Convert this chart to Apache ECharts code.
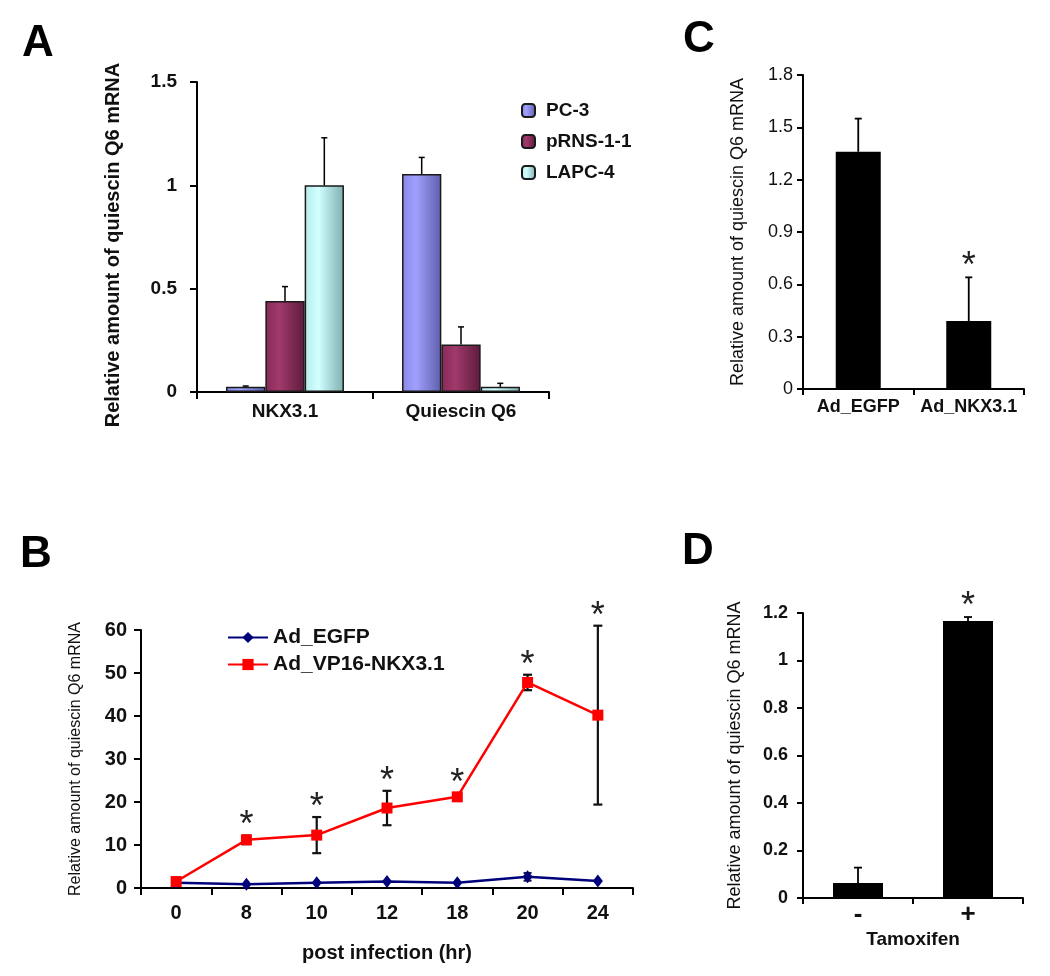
<!DOCTYPE html>
<html><head><meta charset="utf-8">
<script src="https://cdn.jsdelivr.net/npm/echarts@6/dist/echarts.min.js"></script>
<style>html,body{margin:0;padding:0;background:#fff}#c{width:1050px;height:976px}</style>
</head><body><div id="c"></div>
<script>
// ---------- Panel A ----------
const aCategories = ['NKX3.1', 'Quiescin Q6'];
const aNames = ['PC-3', 'pRNS-1-1', 'LAPC-4'];
const aPC3 = [0.025, 1.055];
const aPRNS = [0.44, 0.23];
const aLAPC = [1.0, 0.025];
const aPC3Err = [0.004, 0.08];
const aPRNSErr = [0.07, 0.085];
const aLAPCErr = [0.23, 0.017];
// ---------- Panel B ----------
const bHours = ['0', '8', '10', '12', '18', '20', '24'];
const bNames = ['Ad_EGFP', 'Ad_VP16-NKX3.1'];
const bEGFP = [1.2, 0.85, 1.2, 1.5, 1.2, 2.6, 1.6];
const bEGFPErr = [0, 0, 0, 0, 0, 0.9, 0];
const bVP16 = [1.5, 11.2, 12.3, 18.6, 21.2, 47.8, 40.2];
const bVP16Err = [0, 1.0, 4.2, 4.0, 0.8, 1.8, 20.8];
const bStars = [0, 1, 1, 1, 1, 1, 1];
// ---------- Panel C ----------
const cCategories = ['Ad_EGFP', 'Ad_NKX3.1'];
const cValues = [1.36, 0.39];
const cErr = [0.19, 0.25];
const cStars = [0, 1];
// ---------- Panel D ----------
const dCategories = ['-', '+'];
const dValues = [0.063, 1.166];
const dErr = [0.065, 0.017];
const dStars = [0, 1];

const FF = '"Liberation Sans", Arial, Helvetica, sans-serif';
const chart = echarts.init(document.getElementById('c'), null, {renderer: 'canvas'});

function errSeries(name, xi, yi, vals, errs, opt) {
  const o = Object.assign({offset: 0, cap: 7, lw: 1.5, color: '#000', two: false, z: 5}, opt || {});
  return {
    type: 'custom', name: name, xAxisIndex: xi, yAxisIndex: yi, z: o.z, silent: true,
    data: vals.map((v, i) => [i, v, errs[i]]),
    renderItem: function (params, api) {
      const i = api.value(0), v = api.value(1), e = api.value(2);
      if (!e) return null;
      const bw = api.size([1, 0])[0];
      const top = api.coord([i, v + e]);
      const bot = api.coord([i, o.two ? v - e : v]);
      const cx = top[0] + o.offset * bw;
      const st = {stroke: o.color, lineWidth: o.lw};
      const ch = [
        {type: 'line', shape: {x1: cx, y1: top[1], x2: cx, y2: bot[1]}, style: st},
        {type: 'line', shape: {x1: cx - o.cap / 2, y1: top[1], x2: cx + o.cap / 2, y2: top[1]}, style: st}
      ];
      if (o.two) ch.push({type: 'line', shape: {x1: cx - o.cap / 2, y1: bot[1], x2: cx + o.cap / 2, y2: bot[1]}, style: st});
      return {type: 'group', children: ch};
    }
  };
}
function starSeries(xi, yi, vals, errs, stars, lift) {
  return {
    type: 'custom', xAxisIndex: xi, yAxisIndex: yi, z: 6, silent: true,
    data: vals.map((v, i) => [i, v + errs[i], stars[i]]),
    renderItem: function (params, api) {
      if (!api.value(2)) return null;
      const p = api.coord([api.value(0), api.value(1)]);
      return {type: 'text', x: p[0], y: p[1] - lift,
        style: {text: '*', font: '36px ' + FF, align: 'center', verticalAlign: 'middle', fill: '#222'}};
    }
  };
}
const axLine = {show: true, lineStyle: {color: '#000', width: 2}};
const tick = (len) => ({show: true, length: len, lineStyle: {color: '#000', width: 2}});
const lbl = (size, bold, margin) => ({color: '#111', fontSize: size, fontWeight: bold ? 'bold' : 'normal', fontFamily: FF, margin: margin, interval: 0, hideOverlap: false});
function grad(c0, c1, c2) {
  return new echarts.graphic.LinearGradient(0, 0, 1, 0, [
    {offset: 0, color: c0}, {offset: 0.35, color: c1}, {offset: 1, color: c2}]);
}
const aColors = [grad('#8888e6', '#a0a0ff', '#5e5eab'), grad('#862a58', '#a13a6c', '#5e1a3c'), grad('#b6eaea', '#d2ffff', '#7eaeae')];
const aData = [aPC3, aPRNS, aLAPC];
const aErrs = [aPC3Err, aPRNSErr, aLAPCErr];

const series = [];
aNames.forEach((n, k) => {
  series.push({type: 'bar', name: n, xAxisIndex: 0, yAxisIndex: 0, data: aData[k],
    barGap: '0%', barCategoryGap: '33%',
    itemStyle: {color: aColors[k], borderColor: '#1a1a1a', borderWidth: 1.5}});
});
aNames.forEach((n, k) => {
  series.push(errSeries(n + ' err', 0, 0, aData[k], aErrs[k], {offset: (k - 1) * 0.67 / 3, cap: 6, lw: 1.5}));
});
// B
series.push({type: 'line', name: bNames[0], xAxisIndex: 1, yAxisIndex: 1, data: bEGFP,
  symbol: 'diamond', symbolSize: [10, 13], itemStyle: {color: '#00007a'}, lineStyle: {color: '#00007a', width: 2.5}, z: 3});
series.push({type: 'line', name: bNames[1], xAxisIndex: 1, yAxisIndex: 1, data: bVP16,
  symbol: 'rect', symbolSize: 11, itemStyle: {color: '#ff0000'}, lineStyle: {color: '#ff0000', width: 2.5}, z: 4});
series.push(errSeries('EGFP err', 1, 1, bEGFP, bEGFPErr, {cap: 8, lw: 2, color: '#1a1a3a', two: true, z: 2}));
series.push(errSeries('VP16 err', 1, 1, bVP16, bVP16Err, {cap: 9, lw: 2.2, color: '#111', two: true, z: 2}));
series.push(starSeries(1, 1, bVP16, bVP16Err, bStars, 9));
// C
series.push({type: 'bar', name: 'C', xAxisIndex: 2, yAxisIndex: 2, data: cValues, barWidth: 45,
  itemStyle: {color: '#000'}});
series.push(errSeries('C err', 2, 2, cValues, cErr, {cap: 7, lw: 1.8}));
series.push(starSeries(2, 2, cValues, cErr, cStars, 10));
// D
series.push({type: 'bar', name: 'D', xAxisIndex: 3, yAxisIndex: 3, data: dValues, barWidth: 50,
  itemStyle: {color: '#000'}});
series.push(errSeries('D err', 3, 3, dValues, dErr, {cap: 8, lw: 1.8}));
series.push(starSeries(3, 3, dValues, dErr, dStars, 10));

const yName = 'Relative amount of quiescin Q6 mRNA';
const option = {
  animation: false,
  backgroundColor: '#fff',
  textStyle: {fontFamily: FF},
  grid: [
    {left: 197, top: 82, width: 352, height: 310},
    {left: 141, top: 630, width: 492, height: 258},
    {left: 803, top: 75, width: 221, height: 314},
    {left: 803, top: 613, width: 220, height: 285}
  ],
  legend: [
    {data: aNames, orient: 'vertical', left: 516, top: 96, itemWidth: 13, itemHeight: 13, itemGap: 12,
      textStyle: {fontSize: 19, fontWeight: 'bold', color: '#111', fontFamily: FF, padding: [0, 0, 0, 6]}},
    {data: bNames, orient: 'vertical', left: 222, top: 622, itemWidth: 40, itemHeight: 14, itemGap: 6,
      textStyle: {fontSize: 21, fontWeight: 'bold', color: '#111', fontFamily: FF}}
  ],
  xAxis: [
    {gridIndex: 0, type: 'category', data: aCategories, axisLine: axLine, axisTick: tick(7), axisLabel: lbl(19, true, 10)},
    {gridIndex: 1, type: 'category', data: bHours, axisLine: axLine, axisTick: tick(7), axisLabel: lbl(20, true, 15),
      name: 'post infection (hr)', nameLocation: 'middle', nameGap: 55,
      nameTextStyle: {fontSize: 20, fontWeight: 'bold', color: '#111', fontFamily: FF}},
    {gridIndex: 2, type: 'category', data: cCategories, axisLine: axLine, axisTick: tick(6), axisLabel: lbl(18, true, 9)},
    {gridIndex: 3, type: 'category', data: dCategories, axisLine: axLine, axisTick: tick(6), axisLabel: lbl(26, true, 4),
      name: 'Tamoxifen', nameLocation: 'middle', nameGap: 32,
      nameTextStyle: {fontSize: 19, fontWeight: 'bold', color: '#111', fontFamily: FF}}
  ],
  yAxis: [
    {gridIndex: 0, type: 'value', min: 0, max: 1.5, interval: 0.5, splitLine: {show: false},
      axisLine: axLine, axisTick: tick(7), axisLabel: lbl(19, true, 20),
      name: yName, nameLocation: 'middle', nameGap: 74,
      nameTextStyle: {fontSize: 20, fontWeight: 'bold', color: '#111', fontFamily: FF, padding: [0, 16, 0, 0]}},
    {gridIndex: 1, type: 'value', min: 0, max: 60, interval: 10, splitLine: {show: false},
      axisLine: axLine, axisTick: tick(7), axisLabel: lbl(20, true, 14),
      name: yName, nameLocation: 'middle', nameGap: 57,
      nameTextStyle: {fontSize: 16, color: '#111', fontFamily: FF}},
    {gridIndex: 2, type: 'value', min: 0, max: 1.8, interval: 0.3, splitLine: {show: false},
      axisLine: axLine, axisTick: tick(6), axisLabel: lbl(18, false, 10),
      name: yName, nameLocation: 'middle', nameGap: 56,
      nameTextStyle: {fontSize: 18, color: '#111', fontFamily: FF}},
    {gridIndex: 3, type: 'value', min: 0, max: 1.2, interval: 0.2, splitLine: {show: false},
      axisLine: axLine, axisTick: tick(6), axisLabel: lbl(18, true, 15),
      name: yName, nameLocation: 'middle', nameGap: 59,
      nameTextStyle: {fontSize: 18, color: '#111', fontFamily: FF}}
  ],
  graphic: [
    {type: 'text', left: 22, top: 22, style: {text: 'A', font: 'bold 44px ' + FF, fill: '#000'}},
    {type: 'text', left: 20, top: 533, style: {text: 'B', font: 'bold 44px ' + FF, fill: '#000'}},
    {type: 'text', left: 683, top: 18, style: {text: 'C', font: 'bold 44px ' + FF, fill: '#000'}},
    {type: 'text', left: 682, top: 530, style: {text: 'D', font: 'bold 44px ' + FF, fill: '#000'}}
  ],
  series: series
};
chart.setOption(option);
</script>
</body></html>
